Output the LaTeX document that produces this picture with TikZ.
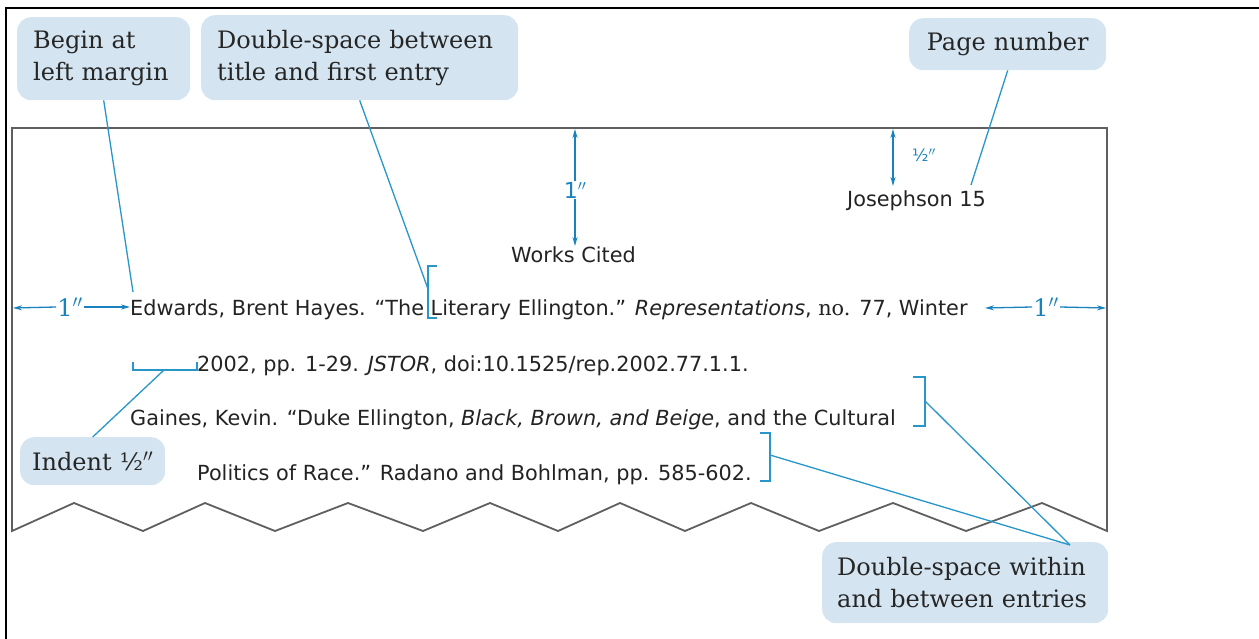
\documentclass[tikz,border=0pt]{standalone}
\usepackage{fontspec}
\setsansfont{DejaVu Sans}
\newfontfamily\noteserif{DejaVu Serif}
\usepackage{tikz}
\usetikzlibrary{arrows.meta}

\definecolor{calloutblue}{RGB}{212,229,241}
\definecolor{leaderblue}{RGB}{40,150,200}
\definecolor{dimblue}{RGB}{25,130,190}
\definecolor{pagegray}{RGB}{95,95,95}
\definecolor{inkgray}{RGB}{35,35,35}

\newcommand{\calloutfont}{\noteserif\fontsize{24}{32}\selectfont}
\newcommand{\pagefont}{\sffamily\fontsize{20.8}{22}\selectfont}

\tikzset{
  callout/.style={fill=calloutblue, rounded corners=14pt, anchor=north west,
    inner xsep=16pt, inner ysep=4pt, align=left, font=\calloutfont, text=black!85},
  pagetext/.style={anchor=base west, inner sep=0pt, font=\pagefont, text=inkgray},
  leader/.style={draw=leaderblue, line width=1.3pt},
  dim/.style={draw=dimblue, line width=1.3pt, -{Stealth[length=9pt,width=5pt]}},
  dimlabel/.style={inner sep=1pt, text=dimblue},
}

\begin{document}
\begin{tikzpicture}[x=1pt,y=-1pt]
\useasboundingbox (0,0) rectangle (1259,639);

% outer frame
\draw[black, line width=1.5pt] (6,639) -- (6,8) -- (1259,8);

% torn page
\draw[pagegray, line width=1.8pt, line join=miter]
  (12,128) -- (1107,128) -- (1107,531)
  -- (1042,503) -- (966,531) -- (893,503) -- (819,531) -- (751,503)
  -- (685,531) -- (620,503) -- (558,531) -- (490,503) -- (423,531)
  -- (348,503) -- (275,531) -- (205,503) -- (143,531) -- (74,503)
  -- (12,531) -- cycle;

% page text
\node[pagetext] (josephson) at (847,207) {Josephson 15};
\node[pagetext] (workscited) at (511,262) {Works Cited};
\node[pagetext] (entryA) at (130,316) {Edwards, Brent Hayes. “The Literary Ellington.” \textit{Representations}, {\noteserif no.} 77, Winter};
\node[pagetext] (entryB) at (197,371) {2002, pp. 1-29. \textit{JSTOR}, doi:10.1525/rep.2002.77.1.1.};
\node[pagetext] (entryC) at (130,425) {Gaines, Kevin. “Duke Ellington, \textit{Black, Brown, and Beige}, and the Cultural};
\node[pagetext] (entryD) at (197,480) {Politics of Race.” Radano and Bohlman, pp. 585-602.};

% callouts
\node[callout, text width=141pt, minimum height=83pt] (begin) at (17,17) {Begin at\\left margin};
\node[callout, text width=285pt, minimum height=85pt] (dstitle) at (201,15) {Double-space between\\title and first entry};
\node[callout, text width=165pt, minimum height=52pt, align=center] (pagenum) at (909,18) {Page number};
\node[callout, text width=121pt, minimum height=48pt, inner xsep=12pt] (indent) at (20,437) {Indent ½$''$};
\node[callout, text width=256pt, minimum height=81pt, inner xsep=15pt] (dsentries) at (822,542) {Double-space within\\and between entries};

% margins
\node[dimlabel, font=\sffamily\fontsize{22}{24}\selectfont] (topin) at (575,190) {1$''$};
\coordinate (pagetop) at (575,129);
\coordinate (titletop) at (575,246);
\draw[dim] (topin.north) -- (pagetop);
\draw[dim] (topin.south) -- (titletop);

\coordinate (halftop) at (893,129);
\coordinate (halfbot) at (893,186);
\draw[dim, {Stealth[length=9pt,width=5pt]}-{Stealth[length=9pt,width=5pt]}] (halftop) -- (halfbot);
\node[dimlabel, font=\sffamily\fontsize{17}{19}\selectfont] (halfin) at (924,155) {½$''$};

\node[dimlabel, font=\noteserif\fontsize{24}{26}\selectfont] (leftin) at (70,307) {1$''$};
\coordinate (leftedge) at (13,308);
\draw[dim] (leftin.west) -- (leftedge);
\draw[dim] (leftin.east) -- (entryA.west |- leftin.east);

\node[dimlabel, font=\noteserif\fontsize{24}{26}\selectfont] (rightin) at (1046,307) {1$''$};
\coordinate (textright) at (985,308);
\coordinate (rightedge) at (1106,308);
\draw[dim] (rightin.west) -- (textright);
\draw[dim] (rightin.east) -- (rightedge);

% brackets
\draw[leader] (437,266) -- (428,266) -- (428,318) -- (437,318);
\coordinate (titlegap) at (428,289);
\draw[leader] (133,362) -- (133,370) -- (197,370) -- (197,362);
\coordinate (indentgap) at (164,370);
\draw[leader] (913,377) -- (925,377) -- (925,426) -- (913,426);
\coordinate (gapC) at (925,401);
\draw[leader] (760,433) -- (770,433) -- (770,481) -- (760,481);
\coordinate (gapD) at (770,455);

% leaders
\coordinate (beginend) at (133,292);
\coordinate (pagenumend) at (971,185);
\coordinate (dsmeet) at (1070,545);
\draw[leader] (begin.south) -- (beginend);
\draw[leader] (dstitle.south) -- (titlegap);
\draw[leader] (pagenum.south) -- (pagenumend);
\draw[leader] (indentgap) -- (indent.north);
\draw[leader] (gapC) -- (dsmeet);
\draw[leader] (gapD) -- (dsmeet);

\end{tikzpicture}
\end{document}
